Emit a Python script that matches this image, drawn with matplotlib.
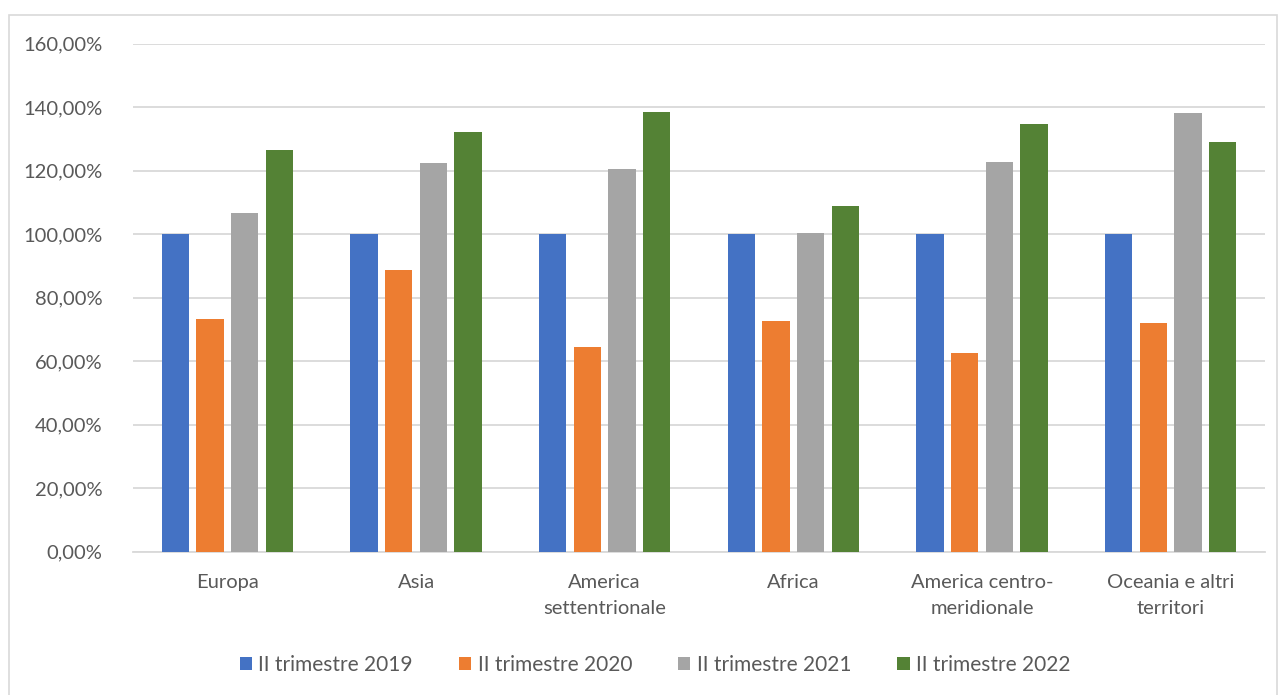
import numpy as np
import matplotlib.pyplot as plt
from matplotlib.patches import Rectangle
from matplotlib.ticker import FuncFormatter

plt.rcParams['font.family'] = ['Lato', 'DejaVu Sans']

regions = ["Europa", "Asia", "America\nsettentrionale", "Africa",
           "America centro-\nmeridionale", "Oceania e altri\nterritori"]
series_names = ["II trimestre 2019", "II trimestre 2020",
                "II trimestre 2021", "II trimestre 2022"]
q2_2019 = [100.0, 100.0, 100.0, 100.0, 100.0, 100.0]
q2_2020 = [73.2, 88.7, 64.6, 72.6, 62.5, 72.0]
q2_2021 = [106.6, 122.6, 120.7, 100.4, 122.8, 138.2]
q2_2022 = [126.5, 132.1, 138.6, 108.8, 134.6, 129.0]
colors = ["#4472c4", "#ed7d31", "#a5a5a5", "#548235"]

text_color = "#595959"
grid_color = "#d9d9d9"

fig = plt.figure(figsize=(12.82, 6.95), dpi=100)
# light frame around the whole chart
fig.patches.append(Rectangle((9 / 1282, -0.01), 1268 / 1282, 1 - 15 / 695 + 0.01,
                             transform=fig.transFigure, fill=False,
                             edgecolor=grid_color, linewidth=1.2))

ax = fig.add_axes([133 / 1282, 1 - 551.8 / 695, (1265 - 133) / 1282, (551.8 - 43.8) / 695])

x = np.arange(len(regions))
step = 0.184
width = 0.145
all_series = [q2_2019, q2_2020, q2_2021, q2_2022]
for i, (vals, name, c) in enumerate(zip(all_series, series_names, colors)):
    ax.bar(x + (i - 1.5) * step, vals, width, color=c, label=name, zorder=3)

ax.set_xlim(-0.5, len(regions) - 0.5)
ax.set_ylim(0, 160)
ax.set_yticks(np.arange(0, 161, 20))
ax.yaxis.set_major_formatter(FuncFormatter(lambda v, p: f"{v:.2f}%".replace(".", ",")))
ax.set_xticks(x)
ax.set_xticklabels(regions, linespacing=1.65)
ax.tick_params(axis="both", length=0, colors=text_color, labelsize=14.5)
ax.tick_params(axis="y", pad=22)
ax.tick_params(axis="x", pad=16)
ax.grid(axis="y", color=grid_color, linewidth=1.3, zorder=0)
for s in ["top", "right", "left"]:
    ax.spines[s].set_visible(False)
ax.spines["bottom"].set_color(grid_color)
ax.spines["bottom"].set_linewidth(1.3)

fig.legend(loc="center", bbox_to_anchor=(655 / 1282, 1 - 665 / 695), ncol=4,
           frameon=False, fontsize=15, labelcolor=text_color,
           handlelength=0.6, handleheight=0.6, handletextpad=0.3,
           columnspacing=2.2)

fig.savefig("out.png", dpi=100)
